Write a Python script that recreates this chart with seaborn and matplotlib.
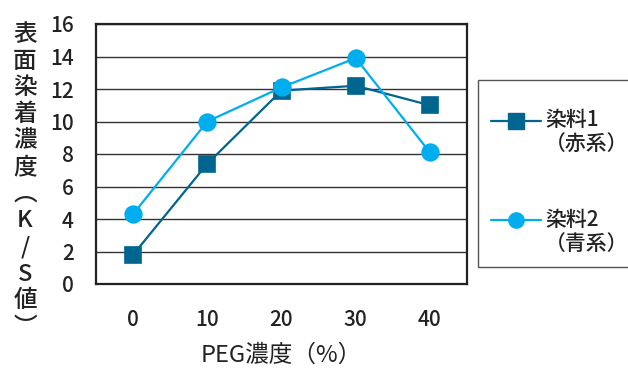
import matplotlib
matplotlib.use('Agg')
import matplotlib.pyplot as plt
import seaborn as sns
import pandas as pd
from matplotlib.lines import Line2D
from matplotlib.patches import Rectangle
from matplotlib.legend_handler import HandlerLine2D
from matplotlib.ticker import FixedLocator

# data
peg_conc = ['0', '10', '20', '30', '40']
dye1_red = [1.8, 7.4, 11.9, 12.2, 11.0]
dye2_blue = [4.3, 10.0, 12.1, 13.9, 8.1]
series_names = ['染料1\n（赤系）', '染料2\n（青系）']
y_ticks = [0, 2, 4, 6, 8, 10, 12, 14, 16]

sns.set_theme(style='white')
plt.rcParams['font.family'] = ['Noto Sans CJK JP', 'DejaVu Sans']
plt.rcParams['font.weight'] = 500

DARK = '#00658F'
LIGHT = '#00AEEF'
TXT = '#222222'

df = pd.DataFrame({
    'PEG': peg_conc * 2,
    'KS': dye1_red + dye2_blue,
    'series': [series_names[0]] * 5 + [series_names[1]] * 5,
})

fig = plt.figure(figsize=(6.28, 3.69), dpi=100)
ax = fig.add_axes([96 / 628, 1 - 284 / 369, 371 / 628, 260 / 369])

sns.pointplot(data=df, x='PEG', y='KS', hue='series', order=peg_conc,
              hue_order=series_names, palette=[DARK, LIGHT],
              markers=['s', 'o'], linestyles=['-', '-'], errorbar=None,
              markersize=12, linewidth=1.6, legend=False, ax=ax)

ax.set_xlim(-0.5, 4.5)
ax.set_ylim(0, 16)
ax.set_yticks(y_ticks)
ax.yaxis.grid(True, color='#333333', linewidth=1.0)
ax.set_axisbelow(True)
for s in ax.spines.values():
    s.set_visible(True)
    s.set_color(TXT)
    s.set_linewidth(1.6)

ax.tick_params(axis='y', length=0, pad=16, labelsize=15, colors=TXT)
ax.tick_params(axis='x', which='major', length=0, pad=18, labelsize=15, colors=TXT)
ax.xaxis.set_minor_locator(FixedLocator([0.5, 1.5, 2.5, 3.5]))
ax.tick_params(axis='x', which='minor', direction='in', length=8, width=1, color='#333333')

ax.set_xlabel('PEG濃度（%）', fontsize=17, labelpad=9, color=TXT)
ax.set_ylabel('')

# vertical y label, stacked characters
ylab = '\n'.join(['表', '面', '染', '着', '濃', '度', '︵', 'K', '/', 'S', '値', '︶'])
fig.text(25 / 628, 1 - 181 / 369, ylab, fontsize=17, color=TXT,
         ha='center', va='center', multialignment='center', linespacing=1.2)


# legend handle sits on the first line of the two-line label
class TopLineHandler(HandlerLine2D):
    def create_artists(self, legend, orig_handle, xdescent, ydescent,
                       width, height, fontsize, trans):
        artists = super().create_artists(legend, orig_handle, xdescent, ydescent,
                                         width, height, fontsize, trans)
        for a in artists:
            a.set_ydata([y + fontsize * 0.62 for y in a.get_ydata()])
        return artists


handles = [
    Line2D([], [], color=DARK, marker='s', markersize=11, linewidth=1.6),
    Line2D([], [], color=LIGHT, marker='o', markersize=11, linewidth=1.6),
]
leg = ax.legend(handles, series_names, loc='upper left',
                bbox_to_anchor=(491 / 628, 1 - 109 / 369), bbox_transform=fig.transFigure,
                borderaxespad=0, borderpad=0, fontsize=15, frameon=False,
                labelspacing=2.55, handlelength=2.4, handletextpad=0.2,
                handler_map={Line2D: TopLineHandler()})
for t in leg.get_texts():
    t.set_color(TXT)
    t.set_linespacing(1.15)

# legend box, runs off the right edge like the original
fig.patches.append(Rectangle((478 / 628, 1 - 267 / 369), 170 / 628, 187 / 369,
                             transform=fig.transFigure, fill=False,
                             edgecolor='#555555', linewidth=1.0))

fig.savefig('out.png', dpi=100)
